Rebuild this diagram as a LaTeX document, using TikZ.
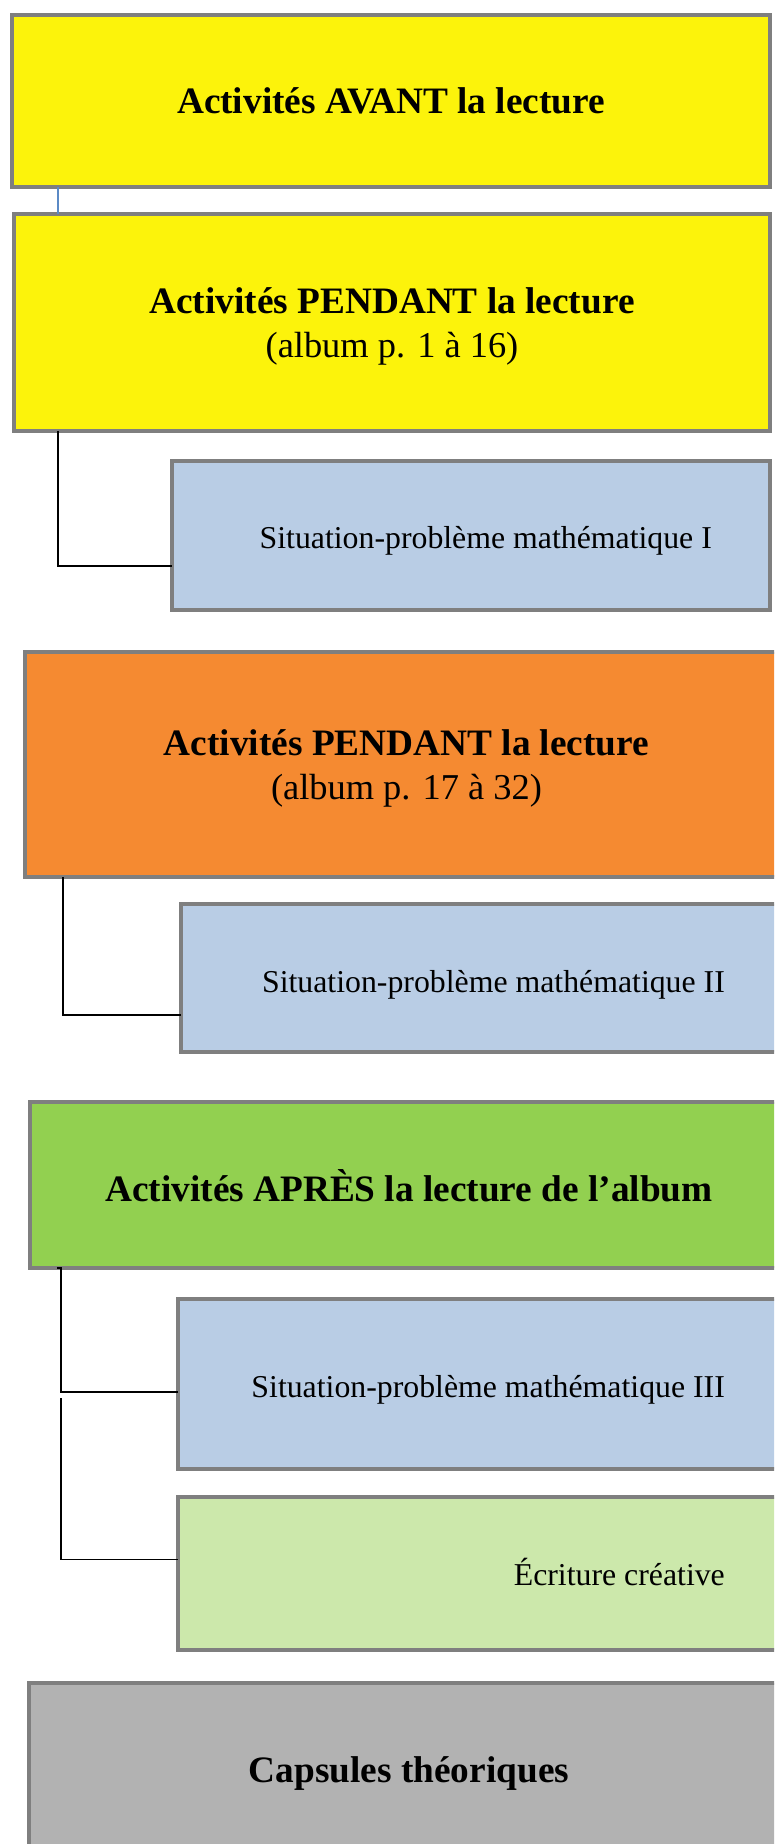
\documentclass[tikz,border=0pt]{standalone}
\usepackage{fontspec}
\setmainfont{Liberation Serif}
\usetikzlibrary{positioning}

\definecolor{jaune}{HTML}{FCF30B}
\definecolor{orange}{HTML}{F58A31}
\definecolor{vert}{HTML}{92D050}
\definecolor{vertpale}{HTML}{CCE8AB}
\definecolor{bleu}{HTML}{B9CDE5}
\definecolor{gris}{HTML}{B2B2B2}
\definecolor{bord}{HTML}{7F7F7F}
\definecolor{trait}{HTML}{5B8AC6}

\newcommand{\grand}{\fontsize{37.3}{43.5}\selectfont}
\newcommand{\pages}{\fontsize{36.4}{43.5}\selectfont}
\newcommand{\moyen}{\fontsize{31.8}{38}\selectfont}

\begin{document}
\begin{tikzpicture}[x=1pt,y=-1pt,
		boite/.style={draw=bord, line width=3.5pt, anchor=north west, inner sep=0pt, outer sep=0pt},
		etape/.style={boite, align=center, font=\grand, text depth=0pt},
		sous/.style={boite, minimum width=620},
		soustexte/.style={anchor=base east, font=\moyen, inner sep=0pt},
		lien/.style={line width=1.6pt, black}]
	\useasboundingbox (0,0) rectangle (774,1844);
	\clip (0,0) rectangle (774,1844);
	\node[etape, fill=jaune, minimum width=758, minimum height=172] (avant) at (12,15) {\bfseries Activités AVANT la lecture};
	\node[etape, fill=jaune, minimum width=756, minimum height=217] (pendantA) at (14,214) {{\bfseries Activités PENDANT la lecture}\\{\pages (album p. 1 à 16)}};
	\node[sous, fill=bleu, minimum width=598, minimum height=149] (sitA) at (172,461) {};
	\node[soustexte] (tA) at ([xshift=-58,yshift=-12.5]sitA.east) {Situation-problème mathématique I};
	\node[etape, fill=orange, minimum width=763, minimum height=225] (pendantB) at (25,652) {{\bfseries Activités PENDANT la lecture}\\{\pages (album p. 17 à 32)}};
	\node[sous, fill=bleu, minimum height=148] (sitB) at (181,904) {};
	\node[soustexte] (tB) at ([xshift=-76,yshift=-14]sitB.east) {Situation-problème mathématique II};
	\node[etape, fill=vert, minimum width=758, minimum height=166] (apres) at (30,1102) {\bfseries Activités APRÈS la lecture de l’album};
	\node[sous, fill=bleu, minimum height=170] (sitC) at (178,1299) {};
	\node[soustexte] (tC) at ([xshift=-73,yshift=-13]sitC.east) {Situation-problème mathématique III};
	\node[sous, fill=vertpale, minimum height=153] (ecriture) at (178,1497) {};
	\node[soustexte] (tD) at ([xshift=-73,yshift=-11.5]ecriture.east) {Écriture créative};
	\node[etape, fill=gris, minimum width=760, minimum height=174] (capsules) at (29,1683) {\bfseries Capsules théoriques};
	% liens
	\draw[trait, line width=1.5pt] ([xshift=46]avant.south west) -- ([xshift=44]pendantA.north west);
	\draw[lien] ([xshift=44]pendantA.south west) |- ([yshift=-30.5]sitA.west);
	\draw[lien] ([xshift=38]pendantB.south west) |- ([yshift=-37]sitB.west);
	\draw[lien] ([xshift=27]apres.south west) -- ++(4,0) |- ([yshift=-8]sitC.west);
	\draw[lien] ([xshift=-117,yshift=-14]sitC.west) |- ([yshift=14]ecriture.west);
\end{tikzpicture}
\end{document}
